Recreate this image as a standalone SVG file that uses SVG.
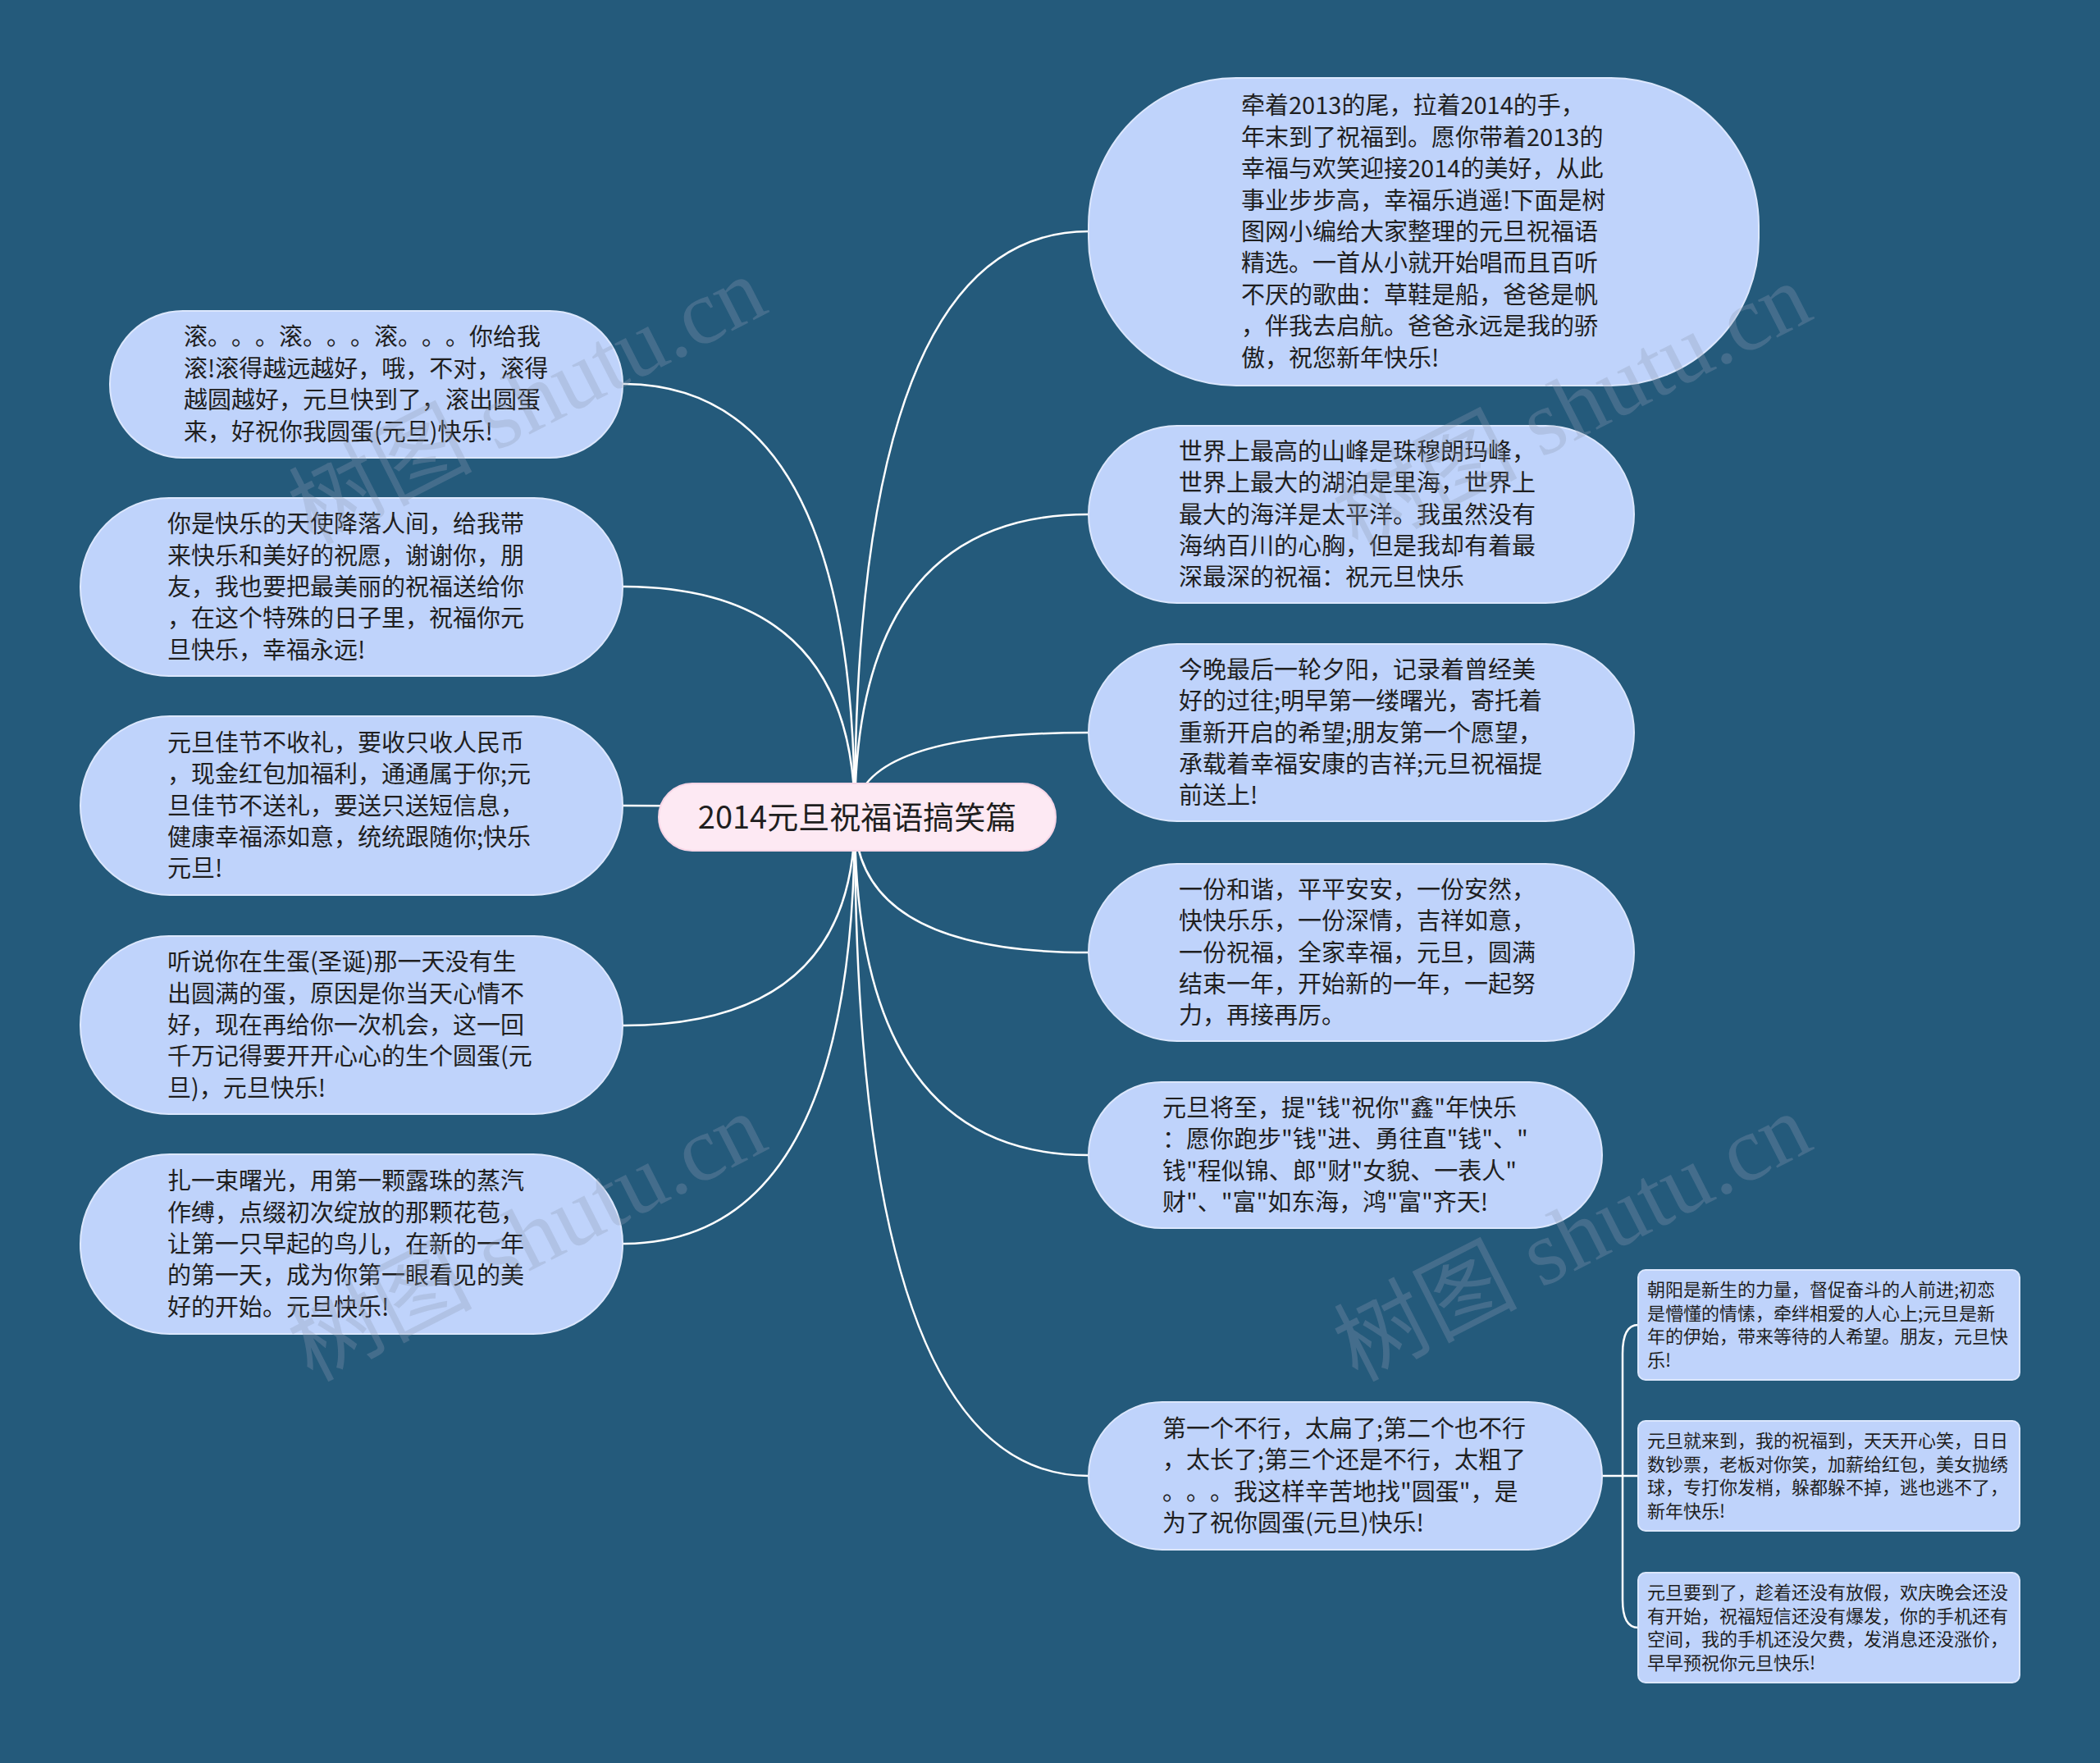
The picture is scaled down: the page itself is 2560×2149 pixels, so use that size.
<svg xmlns="http://www.w3.org/2000/svg" width="2560" height="2149" viewBox="0 0 2560 2149">
<style>
.bg{fill:#245a7b}
.node{fill:#bfd3fb;stroke:#dce7fd;stroke-width:2}
.center{fill:#fde9f3;stroke:#f7d6e6;stroke-width:2}
text{text-spacing-trim:space-all}
.t{font-family:"Noto Sans CJK SC","Noto Sans",sans-serif;font-size:29px;fill:#1f1f1f}
.ts{font-family:"Noto Sans CJK SC","Noto Sans",sans-serif;font-size:22px;fill:#1f1f1f}
.tc{font-family:"Noto Sans CJK SC","Noto Sans",sans-serif;font-size:38px;fill:#1f1f1f;text-anchor:middle}
.link{fill:none;stroke:#ffffff;stroke-width:2.5}
.wm{font-family:"Liberation Serif","Noto Sans CJK SC",serif;font-size:112px;fill:#8d9db2;fill-opacity:0.3;text-anchor:middle}
</style>
<rect class="bg" x="0" y="0" width="2560" height="2149"/>
<g id="connectors">
<path class="link" d="M1042 996 Q1042 282 1327 282"/>
<path class="link" d="M1042 996 Q1042 627 1327 627"/>
<path class="link" d="M1042 996 Q1042 893 1327 893"/>
<path class="link" d="M1042 996 Q1042 1161 1327 1161"/>
<path class="link" d="M1042 996 Q1042 1408 1327 1408"/>
<path class="link" d="M1042 996 Q1042 1799 1327 1799"/>
<path class="link" d="M1042 996 Q1042 468 759 468"/>
<path class="link" d="M1042 996 Q1042 715 759 715"/>
<path class="link" d="M1042 996 Q1042 982 759 982"/>
<path class="link" d="M1042 996 Q1042 1250 759 1250"/>
<path class="link" d="M1042 996 Q1042 1516 759 1516"/>
<path class="link" d="M1953 1799 L1997 1799"/>
<path class="link" d="M1997 1615 Q1978 1615 1978 1650 L1978 1950 Q1978 1984 1997 1984"/>
</g>
<g id="center">
<rect class="center" x="803" y="955" width="484" height="82" rx="41"/>
<text class="tc" x="1045" y="1010">2014元旦祝福语搞笑篇</text>
</g>
<g id="r1">
<rect class="node" x="1327" y="95" width="817" height="375" rx="180"/>
<text class="t" x="1513" y="139.4"><tspan x="1513">牵着2013的尾，拉着2014的手，</tspan><tspan x="1513" dy="38.4">年末到了祝福到。愿你带着2013的</tspan><tspan x="1513" dy="38.4">幸福与欢笑迎接2014的美好，从此</tspan><tspan x="1513" dy="38.4">事业步步高，幸福乐逍遥!下面是树</tspan><tspan x="1513" dy="38.4">图网小编给大家整理的元旦祝福语</tspan><tspan x="1513" dy="38.4">精选。一首从小就开始唱而且百听</tspan><tspan x="1513" dy="38.4">不厌的歌曲：草鞋是船，爸爸是帆</tspan><tspan x="1513" dy="38.4">，伴我去启航。爸爸永远是我的骄</tspan><tspan x="1513" dy="38.4">傲，祝您新年快乐!</tspan></text>
</g>
<g id="r2">
<rect class="node" x="1327" y="519" width="665" height="216" rx="108"/>
<text class="t" x="1437" y="560.7"><tspan x="1437">世界上最高的山峰是珠穆朗玛峰，</tspan><tspan x="1437" dy="38.4">世界上最大的湖泊是里海，世界上</tspan><tspan x="1437" dy="38.4">最大的海洋是太平洋。我虽然没有</tspan><tspan x="1437" dy="38.4">海纳百川的心胸，但是我却有着最</tspan><tspan x="1437" dy="38.4">深最深的祝福：祝元旦快乐</tspan></text>
</g>
<g id="r3">
<rect class="node" x="1327" y="785" width="665" height="216" rx="108"/>
<text class="t" x="1437" y="826.7"><tspan x="1437">今晚最后一轮夕阳，记录着曾经美</tspan><tspan x="1437" dy="38.4">好的过往;明早第一缕曙光，寄托着</tspan><tspan x="1437" dy="38.4">重新开启的希望;朋友第一个愿望，</tspan><tspan x="1437" dy="38.4">承载着幸福安康的吉祥;元旦祝福提</tspan><tspan x="1437" dy="38.4">前送上!</tspan></text>
</g>
<g id="r4">
<rect class="node" x="1327" y="1053" width="665" height="216" rx="108"/>
<text class="t" x="1437" y="1094.7"><tspan x="1437">一份和谐，平平安安，一份安然，</tspan><tspan x="1437" dy="38.4">快快乐乐，一份深情，吉祥如意，</tspan><tspan x="1437" dy="38.4">一份祝福，全家幸福，元旦，圆满</tspan><tspan x="1437" dy="38.4">结束一年，开始新的一年，一起努</tspan><tspan x="1437" dy="38.4">力，再接再厉。</tspan></text>
</g>
<g id="r5">
<rect class="node" x="1327" y="1319" width="626" height="178" rx="89"/>
<text class="t" x="1417" y="1360.9"><tspan x="1417">元旦将至，提"钱"祝你"鑫"年快乐</tspan><tspan x="1417" dy="38.4">：愿你跑步"钱"进、勇往直"钱"、"</tspan><tspan x="1417" dy="38.4">钱"程似锦、郎"财"女貌、一表人"</tspan><tspan x="1417" dy="38.4">财"、"富"如东海，鸿"富"齐天!</tspan></text>
</g>
<g id="r6">
<rect class="node" x="1327" y="1709" width="626" height="180" rx="90"/>
<text class="t" x="1417" y="1751.9"><tspan x="1417">第一个不行，太扁了;第二个也不行</tspan><tspan x="1417" dy="38.4">，太长了;第三个还是不行，太粗了</tspan><tspan x="1417" dy="38.4">。。。我这样辛苦地找"圆蛋"，是</tspan><tspan x="1417" dy="38.4">为了祝你圆蛋(元旦)快乐!</tspan></text>
</g>
<g id="s1">
<rect class="node" x="1997" y="1548" width="465" height="134" rx="9"/>
<text class="ts" x="2008" y="1580.1"><tspan x="2008">朝阳是新生的力量，督促奋斗的人前进;初恋</tspan><tspan x="2008" dy="28.6">是懵懂的情愫，牵绊相爱的人心上;元旦是新</tspan><tspan x="2008" dy="28.6">年的伊始，带来等待的人希望。朋友，元旦快</tspan><tspan x="2008" dy="28.6">乐!</tspan></text>
</g>
<g id="s2">
<rect class="node" x="1997" y="1732" width="465" height="134" rx="9"/>
<text class="ts" x="2008" y="1764.1"><tspan x="2008">元旦就来到，我的祝福到，天天开心笑，日日</tspan><tspan x="2008" dy="28.6">数钞票，老板对你笑，加薪给红包，美女抛绣</tspan><tspan x="2008" dy="28.6">球，专打你发梢，躲都躲不掉，逃也逃不了，</tspan><tspan x="2008" dy="28.6">新年快乐!</tspan></text>
</g>
<g id="s3">
<rect class="node" x="1997" y="1917" width="465" height="134" rx="9"/>
<text class="ts" x="2008" y="1949.1"><tspan x="2008">元旦要到了，趁着还没有放假，欢庆晚会还没</tspan><tspan x="2008" dy="28.6">有开始，祝福短信还没有爆发，你的手机还有</tspan><tspan x="2008" dy="28.6">空间，我的手机还没欠费，发消息还没涨价，</tspan><tspan x="2008" dy="28.6">早早预祝你元旦快乐!</tspan></text>
</g>
<g id="l1">
<rect class="node" x="134" y="379" width="625" height="179" rx="89"/>
<text class="t" x="224" y="421.4"><tspan x="224">滚。。。滚。。。滚。。。你给我</tspan><tspan x="224" dy="38.4">滚!滚得越远越好，哦，不对，滚得</tspan><tspan x="224" dy="38.4">越圆越好，元旦快到了，滚出圆蛋</tspan><tspan x="224" dy="38.4">来，好祝你我圆蛋(元旦)快乐!</tspan></text>
</g>
<g id="l2">
<rect class="node" x="98" y="607" width="661" height="217" rx="108"/>
<text class="t" x="204" y="649.2"><tspan x="204">你是快乐的天使降落人间，给我带</tspan><tspan x="204" dy="38.4">来快乐和美好的祝愿，谢谢你，朋</tspan><tspan x="204" dy="38.4">友，我也要把最美丽的祝福送给你</tspan><tspan x="204" dy="38.4">，在这个特殊的日子里，祝福你元</tspan><tspan x="204" dy="38.4">旦快乐，幸福永远!</tspan></text>
</g>
<g id="l3">
<rect class="node" x="98" y="873" width="661" height="218" rx="109"/>
<text class="t" x="204" y="915.7"><tspan x="204">元旦佳节不收礼，要收只收人民币</tspan><tspan x="204" dy="38.4">，现金红包加福利，通通属于你;元</tspan><tspan x="204" dy="38.4">旦佳节不送礼，要送只送短信息，</tspan><tspan x="204" dy="38.4">健康幸福添如意，统统跟随你;快乐</tspan><tspan x="204" dy="38.4">元旦!</tspan></text>
</g>
<g id="l4">
<rect class="node" x="98" y="1141" width="661" height="217" rx="108"/>
<text class="t" x="204" y="1183.2"><tspan x="204">听说你在生蛋(圣诞)那一天没有生</tspan><tspan x="204" dy="38.4">出圆满的蛋，原因是你当天心情不</tspan><tspan x="204" dy="38.4">好，现在再给你一次机会，这一回</tspan><tspan x="204" dy="38.4">千万记得要开开心心的生个圆蛋(元</tspan><tspan x="204" dy="38.4">旦)，元旦快乐!</tspan></text>
</g>
<g id="l5">
<rect class="node" x="98" y="1407" width="661" height="219" rx="109"/>
<text class="t" x="204" y="1450.2"><tspan x="204">扎一束曙光，用第一颗露珠的蒸汽</tspan><tspan x="204" dy="38.4">作缚，点缀初次绽放的那颗花苞，</tspan><tspan x="204" dy="38.4">让第一只早起的鸟儿，在新的一年</tspan><tspan x="204" dy="38.4">的第一天，成为你第一眼看见的美</tspan><tspan x="204" dy="38.4">好的开始。元旦快乐!</tspan></text>
</g>
<g id="watermarks">
<text class="wm" transform="translate(660 522) rotate(-27)">树图 shutu.cn</text>
<text class="wm" transform="translate(1934 530) rotate(-27)">树图 shutu.cn</text>
<text class="wm" transform="translate(660 1542) rotate(-27)">树图 shutu.cn</text>
<text class="wm" transform="translate(1934 1542) rotate(-27)">树图 shutu.cn</text>
</g>
</svg>
